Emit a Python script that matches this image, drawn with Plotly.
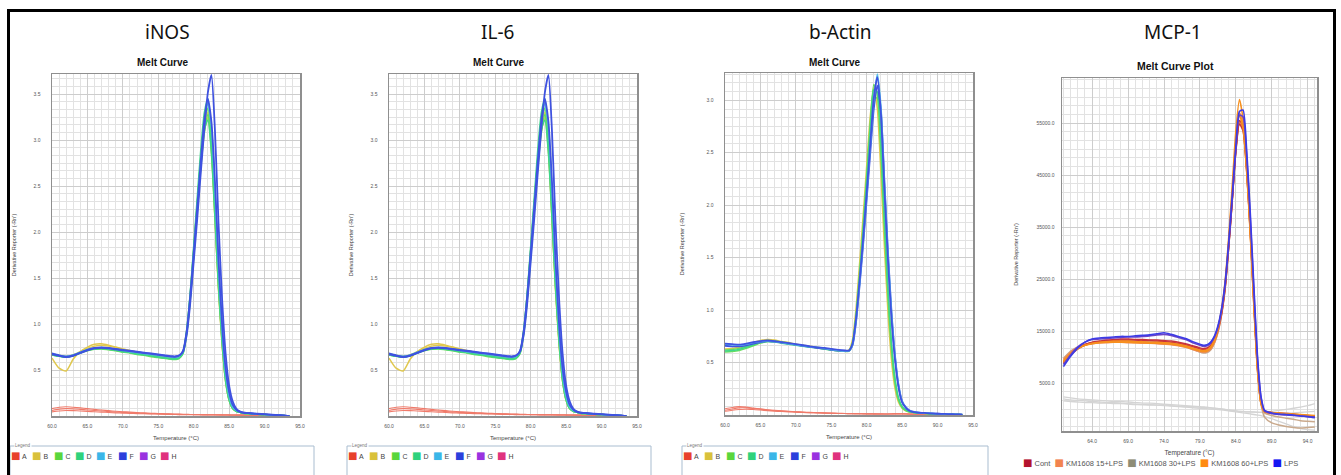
import plotly.graph_objects as go

W, H = 1341, 475

# ---------------- data ----------------
# temperature grid (degC) for iNOS / IL-6 / b-Actin panels
temps = [60, 61, 62, 63, 64, 65, 66, 67, 68, 69, 70, 71, 72, 73, 74, 75, 76, 77,
         77.5,
         78, 78.5, 79, 79.5, 80, 80.5, 81, 81.5, 82, 82.5, 83, 83.5, 84, 84.5, 85, 85.5, 86, 86.5, 87,
         88, 89, 90, 91, 92, 93, 93.5]

# iNOS well curves (Derivative Reporter -Rn')
inos_a1 = [0.08, 0.095, 0.10, 0.095, 0.088, 0.08, 0.072, 0.065, 0.058, 0.052, 0.047, 0.042, 0.038, 0.034, 0.03, 0.027, 0.024, 0.022,
           0.021,
           0.02, 0.019, 0.018, 0.017, 0.016, 0.016, 0.015, 0.015, 0.014, 0.014, 0.013, 0.013, 0.012, 0.012, 0.012, 0.011, 0.011, 0.01, 0.01,
           0.009, 0.008, 0.007, 0.006, 0.005, 0.004, 0.004]
inos_a2 = [0.06, 0.075, 0.08, 0.078, 0.072, 0.066, 0.06, 0.054, 0.048, 0.043, 0.039, 0.035, 0.032, 0.029, 0.026, 0.024, 0.022, 0.02,
           0.019,
           0.018, 0.017, 0.016, 0.016, 0.015, 0.015, 0.014, 0.014, 0.013, 0.013, 0.013, 0.012, 0.012, 0.011, 0.011, 0.011, 0.01, 0.01, 0.01,
           0.009, 0.008, 0.007, 0.006, 0.005, 0.004, 0.004]
inos_a3 = [0.045, 0.055, 0.06, 0.058, 0.055, 0.05, 0.046, 0.042, 0.038, 0.034, 0.031, 0.028, 0.026, 0.024, 0.022, 0.02, 0.018, 0.017,
           0.016,
           0.015, 0.015, 0.014, 0.014, 0.013, 0.013, 0.013, 0.012, 0.012, 0.012, 0.012, 0.011, 0.011, 0.011, 0.01, 0.01, 0.01, 0.01, 0.009,
           0.009, 0.008, 0.007, 0.006, 0.005, 0.004, 0.004]
inos_b1 = [0.63, 0.52, 0.49, 0.62, 0.70, 0.75, 0.78, 0.785, 0.77, 0.75, 0.73, 0.71, 0.695, 0.68, 0.665, 0.65, 0.64, 0.63,
           0.63,
           0.645, 0.70, 0.92, 1.30, 1.80, 2.30, 2.80, 3.18, 3.30, 2.90, 2.15, 1.38, 0.78, 0.38, 0.17, 0.08, 0.05, 0.04, 0.03,
           0.025, 0.02, 0.015, 0.01, 0.007, 0.003, 0.0]
inos_b2 = [0.675, 0.66, 0.65, 0.665, 0.70, 0.735, 0.76, 0.77, 0.76, 0.745, 0.725, 0.71, 0.695, 0.68, 0.665, 0.65, 0.64, 0.63,
           0.63,
           0.645, 0.70, 0.90, 1.26, 1.74, 2.24, 2.72, 3.10, 3.25, 2.88, 2.15, 1.38, 0.78, 0.38, 0.17, 0.08, 0.05, 0.04, 0.03,
           0.025, 0.02, 0.015, 0.01, 0.007, 0.003, 0.0]
inos_c1 = [0.67, 0.655, 0.645, 0.66, 0.69, 0.715, 0.73, 0.735, 0.725, 0.715, 0.70, 0.69, 0.675, 0.665, 0.655, 0.64, 0.63, 0.62,
           0.62,
           0.635, 0.69, 0.92, 1.32, 1.82, 2.32, 2.82, 3.20, 3.35, 2.95, 2.20, 1.42, 0.82, 0.40, 0.18, 0.08, 0.05, 0.04, 0.03,
           0.025, 0.02, 0.015, 0.01, 0.008, 0.004, 0.0]
inos_c2 = [0.665, 0.65, 0.64, 0.655, 0.685, 0.71, 0.725, 0.73, 0.72, 0.71, 0.695, 0.685, 0.67, 0.66, 0.645, 0.635, 0.625, 0.615,
           0.615,
           0.63, 0.68, 0.88, 1.25, 1.72, 2.22, 2.70, 3.08, 3.28, 3.05, 2.40, 1.62, 0.95, 0.48, 0.22, 0.10, 0.055, 0.04, 0.03,
           0.025, 0.02, 0.015, 0.01, 0.007, 0.003, 0.0]
inos_d1 = [0.67, 0.655, 0.645, 0.66, 0.69, 0.72, 0.735, 0.74, 0.73, 0.72, 0.705, 0.695, 0.68, 0.67, 0.66, 0.645, 0.635, 0.625,
           0.625,
           0.64, 0.70, 0.93, 1.33, 1.85, 2.38, 2.90, 3.30, 3.45, 3.05, 2.30, 1.50, 0.88, 0.44, 0.20, 0.09, 0.05, 0.04, 0.03,
           0.025, 0.02, 0.015, 0.01, 0.007, 0.003, 0.0]
inos_d2 = [0.665, 0.65, 0.64, 0.655, 0.685, 0.715, 0.73, 0.735, 0.725, 0.715, 0.70, 0.69, 0.675, 0.665, 0.655, 0.64, 0.63, 0.62,
           0.62,
           0.635, 0.685, 0.90, 1.28, 1.76, 2.26, 2.75, 3.12, 3.22, 2.85, 2.15, 1.40, 0.80, 0.38, 0.17, 0.08, 0.05, 0.04, 0.03,
           0.025, 0.02, 0.015, 0.01, 0.007, 0.003, 0.0]
inos_e1 = [0.68, 0.66, 0.65, 0.665, 0.695, 0.725, 0.74, 0.745, 0.735, 0.725, 0.715, 0.70, 0.69, 0.68, 0.67, 0.66, 0.65, 0.64,
           0.64,
           0.655, 0.70, 0.90, 1.28, 1.76, 2.26, 2.76, 3.18, 3.40, 3.15, 2.45, 1.62, 0.94, 0.47, 0.22, 0.10, 0.06, 0.045, 0.035,
           0.03, 0.022, 0.017, 0.012, 0.008, 0.004, 0.0]
inos_f1 = [0.68, 0.66, 0.645, 0.66, 0.69, 0.72, 0.74, 0.745, 0.74, 0.73, 0.72, 0.71, 0.70, 0.69, 0.68, 0.67, 0.66, 0.65,
           0.65,
           0.66, 0.70, 0.88, 1.22, 1.68, 2.15, 2.65, 3.12, 3.52, 3.71, 3.10, 2.10, 1.28, 0.68, 0.33, 0.16, 0.08, 0.05, 0.04,
           0.03, 0.025, 0.02, 0.015, 0.01, 0.005, 0.0]
inos_f2 = [0.67, 0.655, 0.64, 0.655, 0.685, 0.715, 0.735, 0.74, 0.735, 0.725, 0.715, 0.705, 0.695, 0.685, 0.675, 0.665, 0.655, 0.645,
           0.645,
           0.66, 0.71, 0.92, 1.30, 1.78, 2.28, 2.78, 3.22, 3.45, 3.20, 2.55, 1.70, 1.00, 0.52, 0.26, 0.12, 0.07, 0.045, 0.035,
           0.03, 0.022, 0.018, 0.013, 0.009, 0.004, 0.0]

# IL-6 panel reproduces the same melt-curve screenshot as iNOS
il6_a1, il6_a2, il6_a3 = inos_a1, inos_a2, inos_a3
il6_b1, il6_b2, il6_c1, il6_c2 = inos_b1, inos_b2, inos_c1, inos_c2
il6_d1, il6_d2, il6_e1, il6_f1, il6_f2 = inos_d1, inos_d2, inos_e1, inos_f1, inos_f2

# b-Actin well curves
actin_a1 = [0.06, 0.072, 0.08, 0.075, 0.066, 0.058, 0.05, 0.044, 0.039, 0.035, 0.031, 0.028, 0.025, 0.022, 0.02, 0.018, 0.016, 0.015,
            0.014,
            0.014, 0.013, 0.013, 0.012, 0.012, 0.012, 0.011, 0.011, 0.011, 0.01, 0.01, 0.012, 0.014, 0.015, 0.014, 0.012, 0.01, 0.009, 0.009,
            0.008, 0.008, 0.007, 0.006, 0.005, 0.004, 0.004]
actin_a2 = [0.045, 0.058, 0.068, 0.068, 0.062, 0.055, 0.048, 0.042, 0.037, 0.033, 0.029, 0.026, 0.023, 0.021, 0.019, 0.017, 0.015, 0.014,
            0.013,
            0.013, 0.012, 0.012, 0.012, 0.011, 0.011, 0.011, 0.01, 0.01, 0.01, 0.01, 0.01, 0.009, 0.009, 0.009, 0.009, 0.009, 0.008, 0.008,
            0.008, 0.007, 0.007, 0.006, 0.005, 0.004, 0.004]
actin_a3 = [0.035, 0.045, 0.052, 0.055, 0.052, 0.047, 0.042, 0.037, 0.033, 0.03, 0.027, 0.024, 0.022, 0.02, 0.018, 0.016, 0.015, 0.014,
            0.013,
            0.012, 0.012, 0.012, 0.011, 0.011, 0.011, 0.01, 0.01, 0.01, 0.01, 0.01, 0.009, 0.009, 0.009, 0.009, 0.009, 0.008, 0.008, 0.008,
            0.008, 0.007, 0.006, 0.006, 0.005, 0.004, 0.004]
actin_b1 = [0.63, 0.635, 0.645, 0.665, 0.69, 0.71, 0.72, 0.715, 0.70, 0.69, 0.675, 0.665, 0.655, 0.645, 0.635, 0.625, 0.615, 0.61,
            0.62,
            0.72, 1.02, 1.45, 1.90, 2.38, 2.85, 3.12, 2.92, 2.30, 1.60, 0.98, 0.52, 0.25, 0.12, 0.065, 0.04, 0.03, 0.024, 0.02,
            0.016, 0.013, 0.01, 0.008, 0.006, 0.004, 0.003]
actin_c1 = [0.60, 0.605, 0.615, 0.635, 0.66, 0.685, 0.70, 0.70, 0.69, 0.68, 0.67, 0.66, 0.65, 0.64, 0.635, 0.625, 0.615, 0.61,
            0.615,
            0.69, 0.96, 1.36, 1.80, 2.28, 2.78, 3.15, 3.05, 2.50, 1.78, 1.12, 0.62, 0.30, 0.14, 0.07, 0.045, 0.03, 0.025, 0.02,
            0.016, 0.013, 0.01, 0.008, 0.006, 0.004, 0.003]
actin_c2 = [0.62, 0.625, 0.635, 0.655, 0.68, 0.70, 0.71, 0.705, 0.695, 0.685, 0.67, 0.66, 0.65, 0.64, 0.63, 0.62, 0.612, 0.606,
            0.61,
            0.675, 0.93, 1.30, 1.72, 2.18, 2.65, 3.02, 3.02, 2.55, 1.85, 1.18, 0.66, 0.33, 0.15, 0.075, 0.045, 0.03, 0.025, 0.02,
            0.016, 0.013, 0.01, 0.008, 0.006, 0.004, 0.003]
actin_d1 = [0.61, 0.615, 0.625, 0.645, 0.67, 0.69, 0.70, 0.695, 0.685, 0.675, 0.665, 0.655, 0.645, 0.64, 0.63, 0.62, 0.612, 0.608,
            0.612,
            0.68, 0.94, 1.32, 1.76, 2.24, 2.72, 3.10, 3.08, 2.60, 1.88, 1.20, 0.68, 0.34, 0.16, 0.08, 0.05, 0.032, 0.026, 0.02,
            0.016, 0.013, 0.01, 0.008, 0.006, 0.004, 0.003]
actin_e1 = [0.675, 0.67, 0.665, 0.675, 0.69, 0.70, 0.705, 0.70, 0.69, 0.68, 0.67, 0.66, 0.65, 0.645, 0.635, 0.625, 0.615, 0.61,
            0.612,
            0.67, 0.90, 1.25, 1.65, 2.08, 2.55, 3.00, 3.25, 2.95, 2.22, 1.55, 0.98, 0.56, 0.28, 0.13, 0.075, 0.045, 0.032, 0.026,
            0.02, 0.016, 0.012, 0.01, 0.008, 0.005, 0.004]
actin_f1 = [0.68, 0.675, 0.67, 0.68, 0.695, 0.705, 0.71, 0.705, 0.695, 0.685, 0.675, 0.665, 0.655, 0.645, 0.64, 0.63, 0.62, 0.615,
            0.615,
            0.68, 0.92, 1.28, 1.68, 2.12, 2.58, 3.02, 3.22, 2.88, 2.15, 1.48, 0.92, 0.52, 0.26, 0.12, 0.07, 0.04, 0.03, 0.025,
            0.02, 0.015, 0.012, 0.01, 0.008, 0.005, 0.004]
actin_f2 = [0.66, 0.655, 0.655, 0.665, 0.68, 0.695, 0.705, 0.70, 0.69, 0.68, 0.67, 0.66, 0.65, 0.64, 0.632, 0.622, 0.614, 0.61,
            0.612,
            0.665, 0.89, 1.24, 1.63, 2.06, 2.50, 2.92, 3.14, 2.90, 2.22, 1.55, 0.98, 0.56, 0.28, 0.13, 0.075, 0.045, 0.032, 0.026,
            0.02, 0.016, 0.012, 0.01, 0.008, 0.005, 0.004]

# MCP-1 temperature grid and curves
temps_mcp = [60, 61, 62, 63, 64, 65, 66, 67, 68, 69, 70, 71, 72, 73, 74, 75, 76, 77, 78, 79,
             79.5, 80, 80.5, 81, 81.5, 82, 82.5, 83, 83.5, 84, 84.5, 85, 85.5, 86, 86.5, 87, 87.5, 88,
             89, 90, 91, 92, 93, 94, 95]
mcp_ntc1 = [2400, 2200, 2000, 1900, 1800, 1700, 1600, 1500, 1500, 1400, 1300, 1200, 1200, 1100, 1000, 900, 800, 700, 600, 500,
            450, 400, 300, 200, 150, 100, 0, -100, -200, -300, -400, -450, -500, -500, -550, -550, -600, -600,
            -400, -200, 0, 200, 400, 700, 1100]
mcp_ntc2 = [2000, 1800, 1700, 1600, 1500, 1400, 1300, 1300, 1200, 1100, 1000, 900, 900, 800, 700, 600, 500, 400, 300, 200,
            150, 100, 50, 0, -50, -100, -200, -300, -400, -500, -600, -700, -800, -900, -1000, -1100, -1200, -1400,
            -1800, -2300, -2800, -3300, -3700, -3900, -4000]
mcp_ntc3 = [1600, 1500, 1400, 1300, 1300, 1200, 1200, 1100, 1100, 1000, 900, 900, 800, 800, 900, 700, 600, 500, 500, 400,
            350, 300, 250, 200, 100, 0, -100, -200, -300, -300, -400, -400, -500, -500, -500, -600, -600, -600,
            -700, -700, -800, -700, -600, -500, -400]
mcp_km30_1 = [9400, 10900, 11800, 12400, 12800, 13000, 13100, 13200, 13200, 13200, 13100, 13100, 13000, 12900, 12800, 12600, 12400, 12100, 11600, 11000,
              10800, 10900, 11400, 12600, 14700, 18000, 23000, 31000, 40000, 49500, 55000, 54000, 46500, 34800, 21200, 8400, 1000, -1500,
              -2600, -3000, -3300, -3500, -3600, -3500, -3400]
mcp_km30_2 = [9800, 11200, 12000, 12500, 12800, 12900, 13000, 13000, 13000, 12900, 12900, 12800, 12800, 12700, 12600, 12500, 12300, 12000, 11500, 11000,
              10900, 11000, 11500, 12700, 14800, 18000, 23100, 31000, 40200, 49600, 55300, 54200, 46800, 35000, 21500, 8500, 1400, -700,
              -1200, -1500, -1700, -1900, -2200, -2300, -2400]
mcp_km15_1 = [9200, 10800, 11700, 12300, 12600, 12800, 12900, 13000, 13000, 13000, 12900, 12900, 12800, 12800, 12700, 12600, 12400, 12100, 11700, 11300,
              11200, 11300, 11800, 13000, 15100, 18400, 23600, 31800, 41000, 50800, 57000, 55000, 47000, 35000, 21000, 8200, 1300, -400,
              -700, -800, -900, -1000, -1200, -1300, -1400]
mcp_km15_2 = [9600, 11000, 11900, 12400, 12700, 12800, 12800, 12900, 12900, 12800, 12800, 12700, 12700, 12600, 12500, 12400, 12200, 11900, 11500, 11100,
              11000, 11100, 11600, 12800, 14900, 18200, 23300, 31200, 40200, 49800, 55200, 53800, 46000, 34200, 20500, 8000, 1200, -500,
              -800, -900, -1000, -1100, -1200, -1300, -1300]
mcp_cont1 = [8800, 10400, 11600, 12400, 12900, 13100, 13300, 13400, 13500, 13500, 13400, 13400, 13300, 13300, 13200, 13100, 12900, 12600, 12200, 11800,
             11700, 11800, 12300, 13400, 15400, 18600, 23600, 31500, 40500, 50000, 55500, 54500, 47000, 35500, 22000, 9000, 1800, -400,
             -700, -800, -900, -1000, -1200, -1300, -1500]
mcp_cont2 = [9000, 10600, 11700, 12400, 12800, 13000, 13100, 13200, 13300, 13300, 13300, 13200, 13200, 13100, 13000, 12900, 12700, 12400, 12000, 11600,
             11500, 11600, 12100, 13200, 15200, 18300, 23200, 31000, 40000, 49500, 54800, 53500, 46000, 34500, 21000, 8500, 1500, -300,
             -600, -700, -800, -900, -1100, -1200, -1400]
mcp_km60_1 = [9000, 10600, 11600, 12300, 12700, 12900, 13000, 13100, 13100, 13100, 13000, 13000, 12900, 12900, 12800, 12700, 12500, 12200, 11800, 11400,
              11300, 11400, 12000, 13300, 15600, 19200, 24600, 33000, 43000, 53500, 59500, 55800, 46500, 34000, 20200, 7600, 1100, -500,
              -700, -800, -900, -1000, -1100, -1200, -1300]
mcp_km60_2 = [9300, 10800, 11700, 12300, 12600, 12800, 12900, 12900, 12900, 12900, 12800, 12800, 12700, 12700, 12600, 12500, 12300, 12000, 11600, 11200,
              11100, 11200, 11800, 13000, 15200, 18700, 24000, 32200, 41800, 51500, 56500, 54000, 45800, 33800, 20200, 7800, 1200, -400,
              -600, -700, -800, -900, -1000, -1100, -1200]
mcp_lps1 = [8200, 10200, 11800, 12900, 13500, 13700, 13800, 13900, 14000, 14000, 14100, 14200, 14300, 14500, 14700, 14400, 14000, 13600, 13000, 12500,
            12300, 12400, 12900, 14000, 16000, 19200, 24200, 32000, 41000, 50500, 57200, 57500, 50000, 38000, 24000, 10500, 2500, -200,
            -700, -900, -1000, -1100, -1300, -1400, -1600]
mcp_lps2 = [8600, 10500, 12000, 12900, 13400, 13500, 13600, 13700, 13800, 13900, 13900, 14000, 14100, 14300, 14400, 14200, 13800, 13400, 12800, 12300,
            12100, 12200, 12700, 13800, 15700, 18800, 23800, 31500, 40500, 50000, 56500, 56200, 48800, 37000, 23000, 10000, 2300, -300,
            -800, -1000, -1100, -1200, -1300, -1400, -1500]

# tick labels
melt_xticks = [60, 65, 70, 75, 80, 85, 90, 95]
inos_yticks = [0.5, 1.0, 1.5, 2.0, 2.5, 3.0, 3.5]
actin_yticks = [0.5, 1.0, 1.5, 2.0, 2.5, 3.0]
mcp_xticks = [64, 69, 74, 79, 84, 89, 94]
mcp_yticks = [5000, 15000, 25000, 35000, 45000, 55000]

well_labels = ["A", "B", "C", "D", "E", "F", "G", "H"]
well_colors = ["#e8412c", "#d9c13b", "#5ad63c", "#2fd27c", "#3ab6e8", "#2b3fdc", "#9a32e0", "#e0327e"]
curve_colors = {"A": "#f07a6a", "B": "#e0c84e", "C": "#6ade5c", "D": "#3fd68a", "E": "#58c0ea", "F": "#3f52e0"}

mcp_labels = ["Cont", "KM1608 15+LPS", "KM1608 30+LPS", "KM1608 60+LPS", "LPS"]
mcp_colors = ["#b3132d", "#f2844f", "#8d8c76", "#ff8a12", "#1616f2"]

# ---------------- figure ----------------
fig = go.Figure()


def add(xs, ys, color, xa, ya, width=1.5):
    fig.add_trace(go.Scatter(x=xs, y=ys, xaxis=xa, yaxis=ya, mode="lines",
                             line=dict(color=color, width=width, shape="spline", smoothing=0.6),
                             showlegend=False, hoverinfo="skip"))


def melt_panel(curves, xa, ya):
    widths = {"A": 1.1, "F": 1.8}
    for key, ys in curves:
        add(temps, ys, curve_colors[key], xa, ya, widths.get(key, 1.5))


melt_panel([("A", inos_a1), ("A", inos_a2), ("A", inos_a3), ("B", inos_b1), ("B", inos_b2),
            ("C", inos_c1), ("C", inos_c2), ("D", inos_d1), ("D", inos_d2), ("E", inos_e1),
            ("F", inos_f2), ("F", inos_f1)], "x", "y")
melt_panel([("A", il6_a1), ("A", il6_a2), ("A", il6_a3), ("B", il6_b1), ("B", il6_b2),
            ("C", il6_c1), ("C", il6_c2), ("D", il6_d1), ("D", il6_d2), ("E", il6_e1),
            ("F", il6_f2), ("F", il6_f1)], "x2", "y2")
melt_panel([("A", actin_a1), ("A", actin_a2), ("A", actin_a3), ("B", actin_b1),
            ("C", actin_c1), ("C", actin_c2), ("D", actin_d1), ("F", actin_f2),
            ("E", actin_e1), ("F", actin_f1)], "x3", "y3")

for ys in (mcp_ntc1, mcp_ntc2, mcp_ntc3):
    add(temps_mcp, ys, "#d4d4d4", "x4", "y4", 1.3)
for ys in (mcp_km30_1, mcp_km30_2):
    add(temps_mcp, ys, "#c9a98c", "x4", "y4")
for ys in (mcp_km15_1, mcp_km15_2):
    add(temps_mcp, ys, "#f08a5a", "x4", "y4")
for ys in (mcp_cont1, mcp_cont2):
    add(temps_mcp, ys, "#c8323c", "x4", "y4")
for ys in (mcp_km60_1, mcp_km60_2):
    add(temps_mcp, ys, "#f7901e", "x4", "y4")
add(temps_mcp, mcp_lps2, "#6a44c8", "x4", "y4", 1.6)
add(temps_mcp, mcp_lps1, "#3c3ce6", "x4", "y4", 1.6)


def fx(p):
    return p / W


def fy(p):
    return 1 - p / H


GRID_MAJ = "#cdcdcd"
GRID_MIN = "#e2e2e2"
BORDER = "#8f8f8f"
TICKFONT = dict(family="Liberation Sans", size=5, color="#555555")
YTITLE = "Derivative Reporter (-Rn')"

panels = [
    # suffix, x px, y px, x range, y range, xticks, yticks, minor x0, minor y0, ydtick, ytitle standoff
    ("", (52, 300), (74, 416), [60, 95], [0, 3.72], melt_xticks, inos_yticks, 60, 0, 0.5, 16),
    ("2", (389, 637), (74, 416), [60, 95], [0, 3.72], melt_xticks, inos_yticks, 60, 0, 0.5, 16),
    ("3", (725, 973), (73, 415), [60, 95], [0, 3.26], melt_xticks, actin_yticks, 60, 0, 0.5, 21),
    ("4", (1062, 1317), (78, 431), [59.8, 95.3], [-4170, 63650], mcp_xticks, mcp_yticks, 59, 5000, 10000, 17),
]

layout_axes = {}
for suf, (x0, x1), (y0, y1), xr, yr, xt, yt, mx0, my0, ydt, ysoff in panels:
    big = suf == "4"
    layout_axes["xaxis" + suf] = dict(
        domain=[fx(x0), fx(x1)], range=xr, anchor="y" + suf,
        tickmode="array", tickvals=xt, ticktext=[f"{v:.1f}" for v in xt],
        ticks="", ticklabelstandoff=4, tickfont=TICKFONT,
        showgrid=True, gridcolor=GRID_MAJ, gridwidth=1,
        minor=dict(tickmode="linear", tick0=mx0, dtick=1, showgrid=True, gridcolor=GRID_MIN, gridwidth=1),
        showline=True, mirror=True, linecolor=BORDER, linewidth=1.5, zeroline=False,
        automargin=False, fixedrange=True,
        title=dict(text="Temperature (°C)", standoff=8,
                   font=dict(family="Liberation Sans", size=6.5 if big else 6, color="#444444")),
    )
    layout_axes["yaxis" + suf] = dict(
        domain=[fy(y1), fy(y0)], range=yr, anchor="x" + suf,
        tickmode="array", tickvals=yt, ticktext=[f"{v:.1f}" for v in yt],
        ticks="", ticklabelstandoff=5 if big else 9, tickfont=TICKFONT,
        showgrid=True, gridcolor=GRID_MAJ, gridwidth=1,
        minor=dict(tickmode="linear", tick0=my0, dtick=ydt / 6, showgrid=True, gridcolor=GRID_MIN, gridwidth=1),
        showline=True, mirror=True, linecolor=BORDER, linewidth=1.5, zeroline=False,
        automargin=False, fixedrange=True,
        title=dict(text=YTITLE, standoff=ysoff,
                   font=dict(family="Liberation Sans", size=5.5, color="#444444")),
    )

annotations = []
# panel names
for name, cx in [("iNOS", 167), ("IL-6", 497), ("b-Actin", 840), ("MCP-1", 1173)]:
    annotations.append(dict(text=name, x=fx(cx), y=fy(32), xref="paper", yref="paper",
                            showarrow=False, xanchor="center", yanchor="middle",
                            font=dict(family="Noto Sans", size=19, color="#111111")))
# chart titles
for name, cx, cy, sz in [("Melt Curve", 163, 62, 10), ("Melt Curve", 499, 62, 10),
                         ("Melt Curve", 835, 62, 10), ("Melt Curve Plot", 1175, 66, 10.5)]:
    annotations.append(dict(text=f"<b>{name}</b>", x=fx(cx), y=fy(cy), xref="paper", yref="paper",
                            showarrow=False, xanchor="center", yanchor="middle",
                            font=dict(family="Liberation Sans", size=sz, color="#111111")))

SQ = "font-family:DejaVu Sans;font-size:10px"
shapes = []
# legend boxes for A-H panels
for bx0, bx1 in [(10, 314), (347, 651), (682, 988)]:
    shapes.append(dict(type="rect", xref="paper", yref="paper", x0=fx(bx0), x1=fx(bx1),
                       y0=-0.05, y1=fy(446), line=dict(color="#a9bdd0", width=1), fillcolor="rgba(0,0,0,0)"))
    annotations.append(dict(text="Legend", x=fx(bx0 + 4), y=fy(445.5), xref="paper", yref="paper",
                            showarrow=False, xanchor="left", yanchor="middle", bgcolor="white", borderpad=0,
                            font=dict(family="Liberation Sans", size=4.5, color="#777777")))
    for i, (lab, col) in enumerate(zip(well_labels, well_colors)):
        annotations.append(dict(
            text=f'<span style="color:{col};{SQ}">■</span> {lab}',
            x=fx(bx0 + i * 21.3), y=fy(455.5), xref="paper", yref="paper",
            showarrow=False, xanchor="left", yanchor="middle", borderpad=0,
            font=dict(family="Liberation Sans", size=7, color="#444444")))

# MCP-1 legend
mcp_text = "&nbsp;&nbsp;".join(
    f'<span style="color:{c};{SQ}">■</span> {lab}' for lab, c in zip(mcp_labels, mcp_colors))
annotations.append(dict(text=mcp_text, x=fx(1022), y=fy(462), xref="paper", yref="paper",
                        showarrow=False, xanchor="left", yanchor="middle", borderpad=0,
                        font=dict(family="Liberation Sans", size=7.5, color="#555555")))

# outer black frame
shapes.append(dict(type="rect", xref="paper", yref="paper", x0=fx(8.5), x1=fx(1334.5),
                   y0=-0.05, y1=fy(10.5), line=dict(color="black", width=3), fillcolor="rgba(0,0,0,0)"))

fig.update_layout(
    width=W, height=H, autosize=False,
    margin=dict(l=0, r=0, t=0, b=0),
    paper_bgcolor="white", plot_bgcolor="white",
    showlegend=False,
    annotations=annotations, shapes=shapes,
    **layout_axes,
)

fig.write_html("out.html", config={"displayModeBar": False, "staticPlot": True},
               post_script="document.body.style.margin='0px';document.body.style.overflow='hidden';")
